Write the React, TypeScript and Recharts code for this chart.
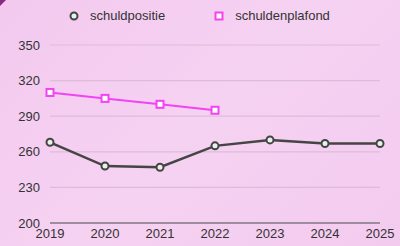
import { LineChart, Line, XAxis, YAxis, CartesianGrid } from 'recharts';

const years = ['2019', '2020', '2021', '2022', '2023', '2024', '2025'];
const schuldpositie = [268, 248, 247, 265, 270, 267, 267];
const schuldenplafond = [310, 305, 300, 295, null, null, null];
const yTicks = [200, 230, 260, 290, 320, 350];

const data = years.map((year, i) => ({
  year,
  schuldpositie: schuldpositie[i],
  schuldenplafond: schuldenplafond[i],
}));

const font = 'Liberation Sans, Arial, Helvetica, sans-serif';

const SquareDot = (props: any) => {
  const { cx, cy, value } = props;
  if (value == null || cx == null || cy == null) return null;
  return <rect x={cx - 3.5} y={cy - 3.5} width={7} height={7} fill="#fff" stroke="#f244f2" strokeWidth={2} />;
};

const ChartLegend = () => (
  <div
    style={{
      display: 'flex',
      fontFamily: font,
      fontSize: 13,
      color: '#333',
      position: 'absolute',
      top: 8,
      left: 68,
      lineHeight: '16px',
    }}
  >
    <div style={{ display: 'flex', alignItems: 'center', marginRight: 48 }}>
      <svg width={14} height={12} style={{ marginRight: 8 }}>
        <circle cx={6} cy={6} r={3.5} fill="#e6f2ea" stroke="#444" strokeWidth={2} />
      </svg>
      <span>schuldpositie</span>
    </div>
    <div style={{ display: 'flex', alignItems: 'center' }}>
      <svg width={14} height={12} style={{ marginRight: 8 }}>
        <rect x={2.5} y={2.5} width={7} height={7} fill="#fff" stroke="#f244f2" strokeWidth={2} />
      </svg>
      <span>schuldenplafond</span>
    </div>
  </div>
);

export default function App() {
  return (
    <div
      style={{
        position: 'fixed',
        top: 0,
        left: 0,
        width: 400,
        height: 246,
        background: 'linear-gradient(135deg, #f3c9ef 0%, #f6d2f2 50%, #f3cbef 100%)',
        overflow: 'hidden',
      }}
    >
      <div
        style={{
          position: 'absolute',
          top: 0,
          left: 0,
          width: 6,
          height: 6,
          background: '#8a2c7e',
          clipPath: 'polygon(0 0, 100% 0, 0 100%)',
        }}
      />
      <ChartLegend />
      <LineChart
        width={400}
        height={246}
        data={data}
        margin={{ top: 45, right: 20, left: 0, bottom: 0 }}
        style={{ position: 'absolute', top: 0, left: 0 }}
      >
        <CartesianGrid vertical={false} stroke="#dbbdd7" strokeWidth={1.2} />
        <XAxis
          dataKey="year"
          height={23}
          tickLine={false}
          axisLine={{ stroke: '#555', strokeWidth: 1.2 }}
          tick={{ fill: '#333', fontSize: 13, fontFamily: font }}
          tickSize={0}
          tickMargin={6}
          interval={0}
        />
        <YAxis
          width={50}
          domain={[200, 350]}
          ticks={yTicks}
          axisLine={false}
          tickLine={false}
          tickSize={0}
          tickMargin={10}
          tick={{ fill: '#333', fontSize: 13, fontFamily: font }}
        />
        <Line
          dataKey="schuldpositie"
          stroke="#454545"
          strokeWidth={2.5}
          dot={{ r: 3.5, fill: '#e6f2ea', stroke: '#444', strokeWidth: 2 }}
          isAnimationActive={false}
        />
        <Line
          dataKey="schuldenplafond"
          stroke="#f244f2"
          strokeWidth={2}
          dot={<SquareDot />}
          connectNulls={false}
          isAnimationActive={false}
        />
      </LineChart>
    </div>
  );
}
